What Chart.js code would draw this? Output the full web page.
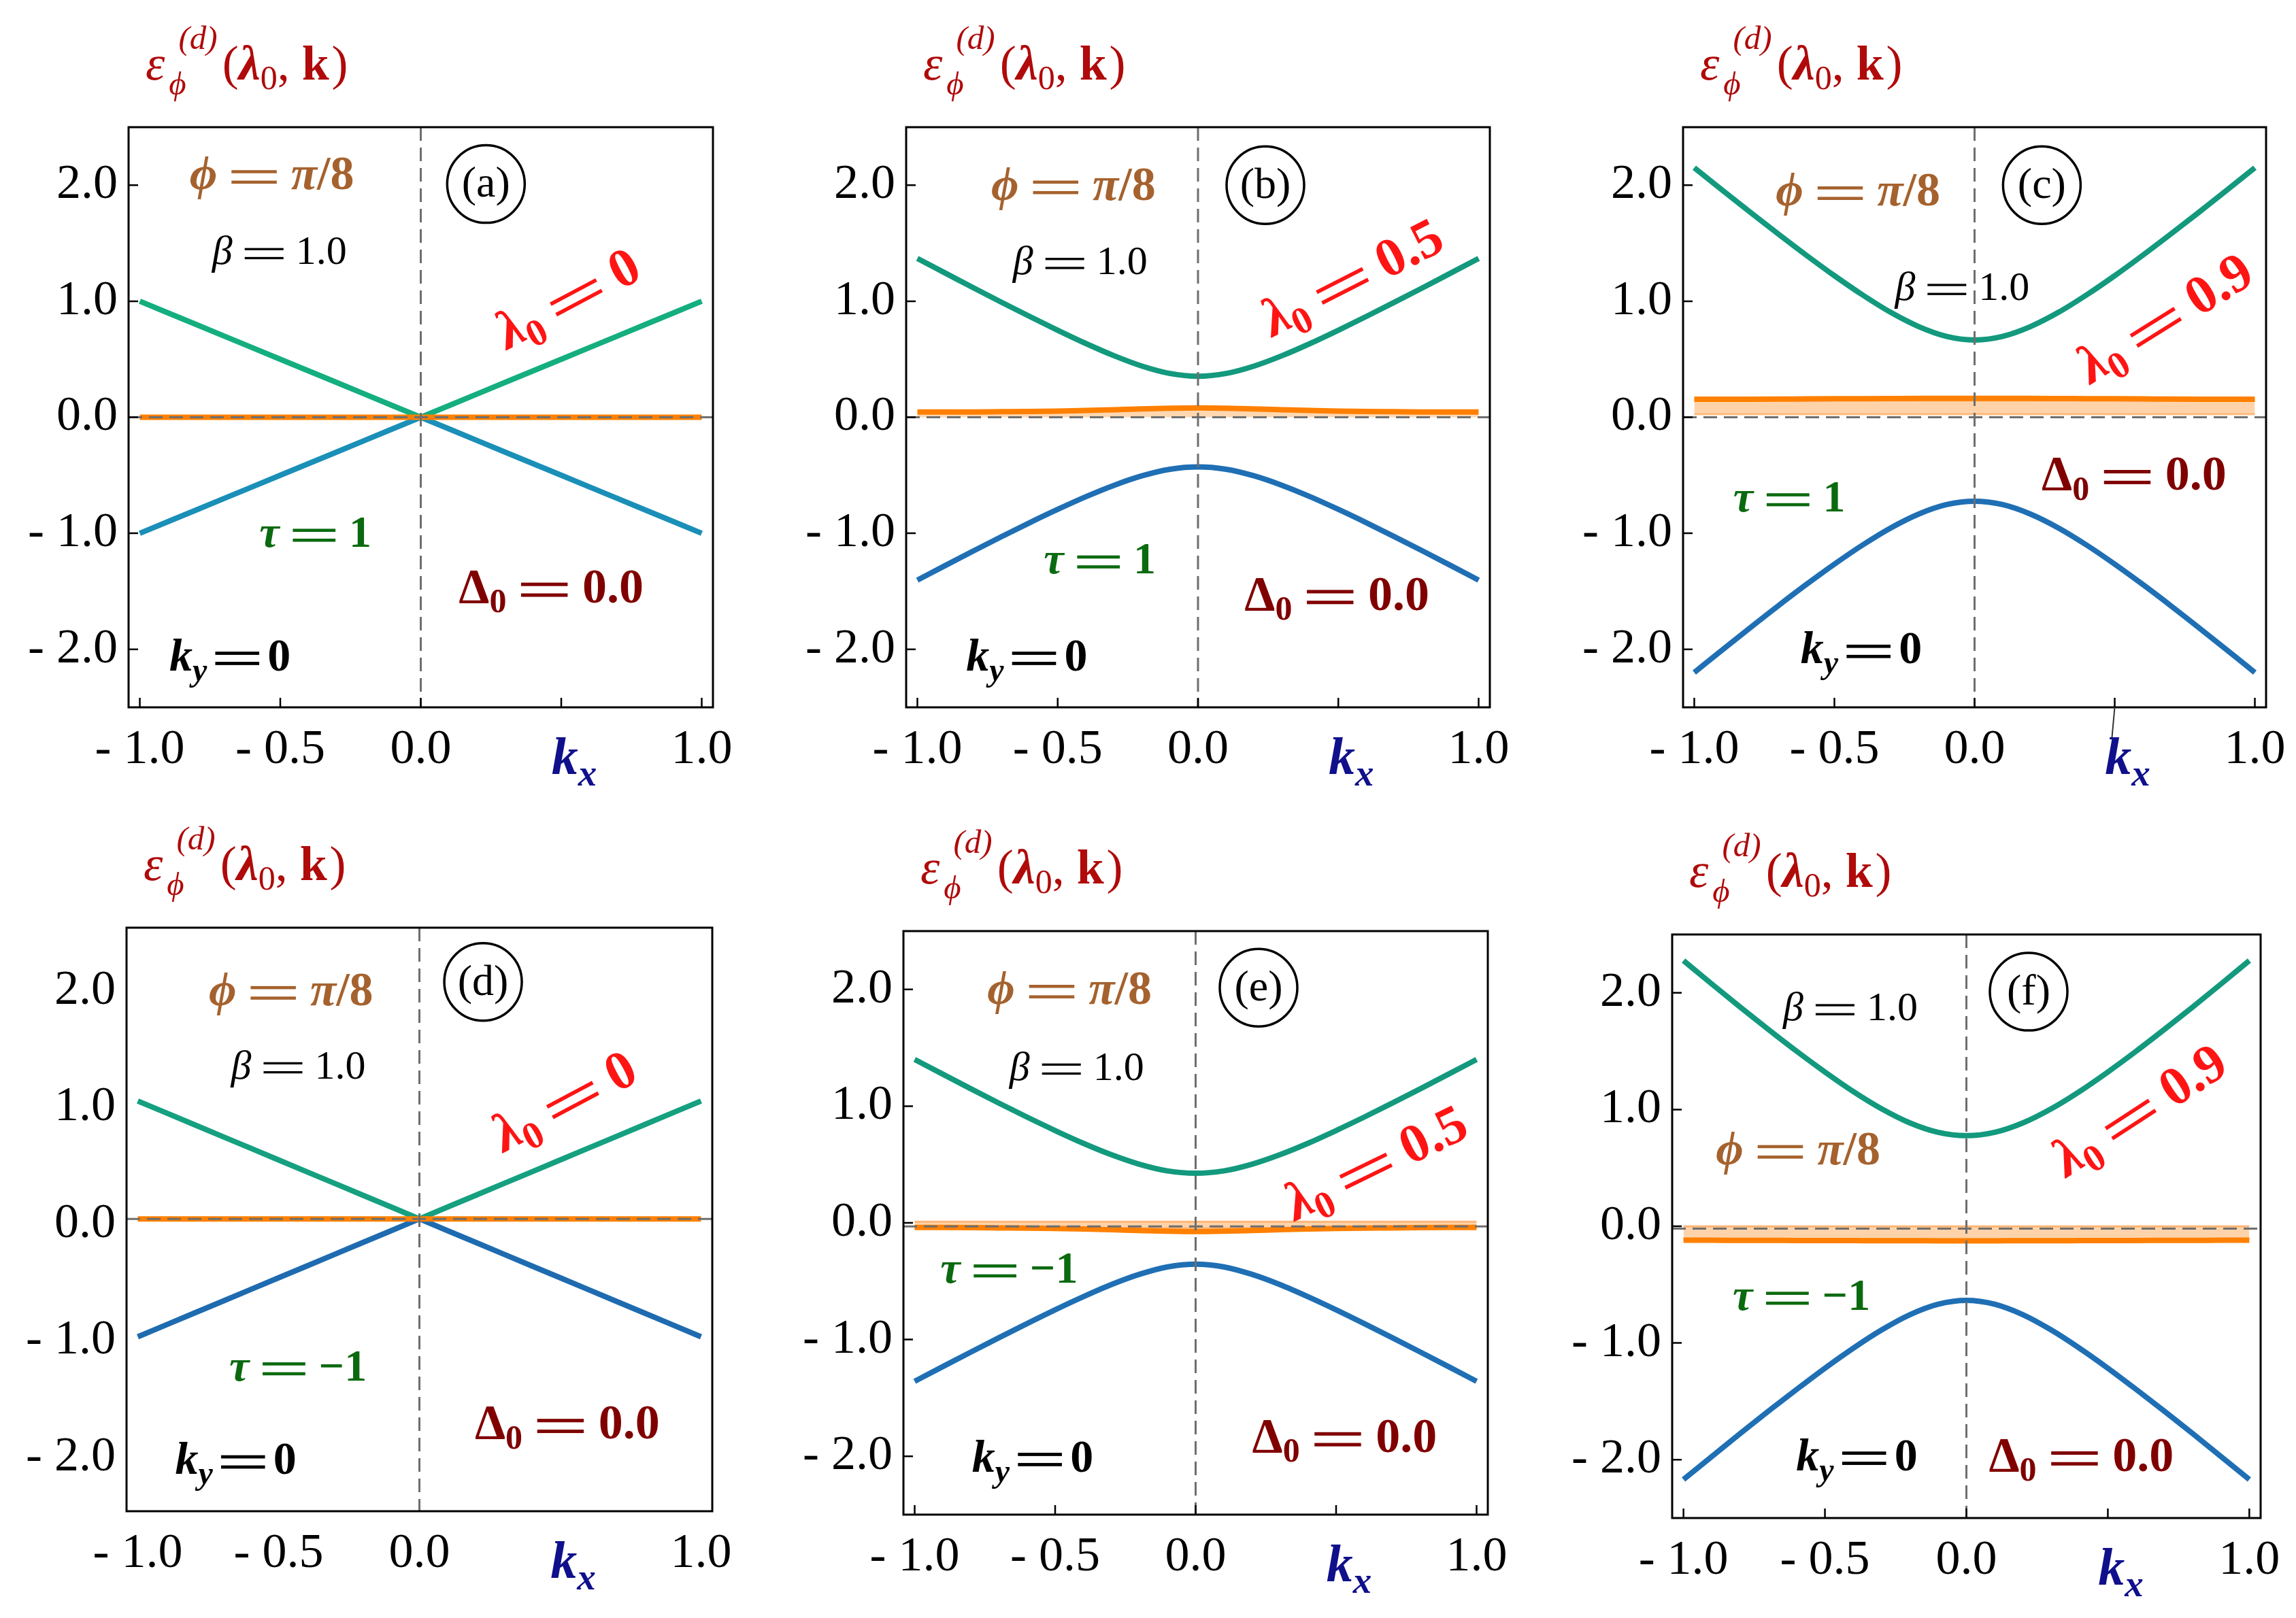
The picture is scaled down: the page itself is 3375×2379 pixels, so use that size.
<!DOCTYPE html>
<html>
<head>
<meta charset="utf-8">
<script src="https://cdn.jsdelivr.net/npm/chart.js@4.4.1/dist/chart.umd.min.js"></script>
<style>
  html, body { margin: 0; padding: 0; background: #fff; }
  body { width: 3375px; height: 2379px; position: relative; overflow: hidden; }
  canvas { position: absolute; }
</style>
</head>
<body>
<script>
// k_x sample points shared by every panel
const KX = [-1.0, -0.9, -0.8, -0.7, -0.6, -0.5, -0.4, -0.3, -0.2, -0.1, 0.0, 0.1, 0.2, 0.3, 0.4, 0.5, 0.6, 0.7, 0.8, 0.9, 1.0];

// tick values and their printed labels
const X_TICKS = [-1.0, -0.5, 0.0, 0.5, 1.0];
const X_TICK_LABELS = ["- 1.0", "- 0.5", "0.0", "", "1.0"];
const Y_TICKS = [-2, -1, 0, 1, 2];
const Y_TICK_LABELS = ["- 2.0", "- 1.0", "0.0", "1.0", "2.0"];

// (a) lambda0 = 0, tau = 1
const A_UP = [1.0, 0.9, 0.8, 0.7, 0.6, 0.5, 0.4, 0.3, 0.2, 0.1, 0.0, 0.1, 0.2, 0.3, 0.4, 0.5, 0.6, 0.7, 0.8, 0.9, 1.0];
const A_LO = [-1.0, -0.9, -0.8, -0.7, -0.6, -0.5, -0.4, -0.3, -0.2, -0.1, 0.0, -0.1, -0.2, -0.3, -0.4, -0.5, -0.6, -0.7, -0.8, -0.9, -1.0];
const A_OR = [0, 0, 0, 0, 0, 0, 0, 0, 0, 0, 0, 0, 0, 0, 0, 0, 0, 0, 0, 0, 0];

// (b) lambda0 = 0.5, tau = 1
const B_UP = [1.369, 1.242, 1.115, 0.991, 0.869, 0.750, 0.636, 0.531, 0.441, 0.377, 0.353, 0.377, 0.441, 0.531, 0.636, 0.750, 0.869, 0.991, 1.115, 1.242, 1.369];
const B_LO = [-1.404, -1.277, -1.152, -1.029, -0.909, -0.794, -0.685, -0.587, -0.505, -0.448, -0.428, -0.448, -0.505, -0.587, -0.685, -0.794, -0.909, -1.029, -1.152, -1.277, -1.404];
const B_OR = [0.045, 0.045, 0.046, 0.048, 0.050, 0.053, 0.058, 0.065, 0.072, 0.078, 0.080, 0.078, 0.072, 0.065, 0.058, 0.053, 0.050, 0.048, 0.046, 0.045, 0.045];

// (c) lambda0 = 0.9, tau = 1
const C_UP = [2.150, 1.957, 1.766, 1.579, 1.396, 1.220, 1.055, 0.905, 0.782, 0.697, 0.666, 0.697, 0.782, 0.905, 1.055, 1.220, 1.396, 1.579, 1.766, 1.957, 2.150];
const C_LO = [-2.200, -2.005, -1.813, -1.624, -1.441, -1.266, -1.102, -0.955, -0.835, -0.753, -0.724, -0.753, -0.835, -0.955, -1.102, -1.266, -1.441, -1.624, -1.813, -2.005, -2.200];
const C_OR = [0.155, 0.155, 0.156, 0.157, 0.158, 0.159, 0.160, 0.161, 0.162, 0.162, 0.162, 0.162, 0.162, 0.161, 0.160, 0.159, 0.158, 0.157, 0.156, 0.155, 0.155];

// (d) lambda0 = 0, tau = -1
const D_UP = [1.055, 0.954, 0.853, 0.752, 0.651, 0.550, 0.449, 0.348, 0.247, 0.146, 0.045, 0.146, 0.247, 0.348, 0.449, 0.550, 0.651, 0.752, 0.853, 0.954, 1.055];
const D_LO = [-0.965, -0.864, -0.763, -0.662, -0.561, -0.460, -0.359, -0.258, -0.157, -0.056, 0.045, -0.056, -0.157, -0.258, -0.359, -0.460, -0.561, -0.662, -0.763, -0.864, -0.965];
const D_OR = [0.045, 0.045, 0.045, 0.045, 0.045, 0.045, 0.045, 0.045, 0.045, 0.045, 0.045, 0.045, 0.045, 0.045, 0.045, 0.045, 0.045, 0.045, 0.045, 0.045, 0.045];

// (e) lambda0 = 0.5, tau = -1
const E_UP = [1.400, 1.274, 1.149, 1.026, 0.906, 0.791, 0.682, 0.584, 0.502, 0.445, 0.425, 0.445, 0.502, 0.584, 0.682, 0.791, 0.906, 1.026, 1.149, 1.274, 1.400];
const E_LO = [-1.358, -1.232, -1.107, -0.984, -0.863, -0.745, -0.633, -0.529, -0.441, -0.377, -0.354, -0.377, -0.441, -0.529, -0.633, -0.745, -0.863, -0.984, -1.107, -1.232, -1.358];
const E_OR = [-0.040, -0.040, -0.041, -0.043, -0.045, -0.048, -0.053, -0.059, -0.066, -0.072, -0.075, -0.072, -0.066, -0.059, -0.053, -0.048, -0.045, -0.043, -0.041, -0.040, -0.040];

// (f) lambda0 = 0.9, tau = -1
const F_UP = [2.276, 2.076, 1.879, 1.687, 1.500, 1.322, 1.155, 1.007, 0.886, 0.805, 0.776, 0.805, 0.886, 1.007, 1.155, 1.322, 1.500, 1.687, 1.879, 2.076, 2.276];
const F_LO = [-2.170, -1.973, -1.777, -1.585, -1.398, -1.216, -1.045, -0.889, -0.758, -0.668, -0.635, -0.668, -0.758, -0.889, -1.045, -1.216, -1.398, -1.585, -1.777, -1.973, -2.170];
const F_OR = [-0.120, -0.120, -0.121, -0.121, -0.122, -0.122, -0.123, -0.124, -0.124, -0.125, -0.125, -0.125, -0.124, -0.124, -0.123, -0.122, -0.122, -0.121, -0.121, -0.120, -0.120];

// light shaded strips next to the flat band
const BAND_X = [-1.0, 1.0];
const C_BAND_TOP = [0.145, 0.145];
const C_BAND_BOT = [0.026, 0.026];
const E_BAND_TOP = [0.010, 0.010];
const E_BAND_BOT = [-0.045, -0.045];
const F_BAND_TOP = [0.000, 0.000];
const F_BAND_BOT = [-0.110, -0.110];

const FONT = '"Liberation Serif", "DejaVu Serif", serif';
const PAD_L = 200, PAD_R = 60, PAD_T = 190, PAD_B = 150;
const X_MIN = -1.04, X_MAX = 1.04;

const GREEN = "#13997d", BLUE = "#1f6fb4", ORANGE = "#ff8000";
const PHI = "\u03d5";

const panels = [
  { tag: "a", box: [189, 187, 1048, 1040], yr: [-2.5, 2.5], up: A_UP, lo: A_LO, orange: A_OR,
    upCol: "#14ae7f", loCol: "#1a8fb8", smooth: false, ticks: true, hzero: 0,
    notes: [
      { k: "phi", x: -0.53, y: 2.10 }, { k: "circ", x: 0.232, y: 2.01 },
      { k: "beta", x: -0.503, y: 1.435 }, { k: "lam", v: "0", x: 0.522, y: 1.03, r: 28 },
      { k: "tau", v: "1", x: -0.375, y: -0.99 }, { k: "delta", x: 0.464, y: -1.457 },
      { k: "ky", x: -0.679, y: -2.05 } ] },
  { tag: "b", box: [1332, 187, 2190, 1040], yr: [-2.5, 2.5], up: B_UP, lo: B_LO, orange: B_OR,
    upCol: GREEN, loCol: BLUE, smooth: true, ticks: true, hzero: 0, orangeFill: true,
    notes: [
      { k: "phi", x: -0.444, y: 2.01 }, { k: "circ", x: 0.24, y: 2.0 },
      { k: "beta", x: -0.42, y: 1.35 }, { k: "lam", v: "0.5", x: 0.548, y: 1.21, r: 27 },
      { k: "tau", v: "1", x: -0.35, y: -1.22 }, { k: "delta", x: 0.495, y: -1.52 },
      { k: "ky", x: -0.61, y: -2.05 } ] },
  { tag: "c", box: [2474, 187, 3331, 1040], yr: [-2.5, 2.5], up: C_UP, lo: C_LO, orange: C_OR,
    upCol: GREEN, loCol: BLUE, smooth: true, ticks: true, hzero: 0, band: [C_BAND_TOP, C_BAND_BOT], stray: true,
    notes: [
      { k: "phi", x: -0.416, y: 1.96 }, { k: "circ", x: 0.24, y: 2.0 },
      { k: "beta", x: -0.044, y: 1.126 }, { k: "lam", v: "0.9", x: 0.677, y: 0.86, r: 32 },
      { k: "tau", v: "1", x: -0.661, y: -0.684 }, { k: "delta", x: 0.569, y: -0.486 },
      { k: "ky", x: -0.404, y: -1.99 } ] },
  { tag: "d", box: [186, 1364, 1047, 2222], yr: [-2.46, 2.54], up: D_UP, lo: D_LO, orange: D_OR,
    upCol: "#15a080", loCol: "#1e6bb0", smooth: false, ticks: false, hzero: 0.045,
    notes: [
      { k: "phi", x: -0.456, y: 2.01 }, { k: "circ", x: 0.226, y: 2.075 },
      { k: "beta", x: -0.43, y: 1.364 }, { k: "lam", v: "0", x: 0.513, y: 1.06, r: 28 },
      { k: "tau", v: "\u22121", x: -0.431, y: -1.213 }, { k: "delta", x: 0.525, y: -1.70 },
      { k: "ky", x: -0.652, y: -2.01 } ] },
  { tag: "e", box: [1328, 1369, 2187, 2227], yr: [-2.5, 2.5], up: E_UP, lo: E_LO, orange: E_OR,
    upCol: GREEN, loCol: BLUE, smooth: true, ticks: true, hzero: -0.03, band: [E_BAND_TOP, E_BAND_BOT],
    notes: [
      { k: "phi", x: -0.449, y: 2.01 }, { k: "circ", x: 0.224, y: 2.015 },
      { k: "beta", x: -0.423, y: 1.342 }, { k: "lam", v: "0.5", x: 0.64, y: 0.52, r: 26 },
      { k: "tau", v: "\u22121", x: -0.664, y: -0.385 }, { k: "delta", x: 0.53, y: -1.825 },
      { k: "ky", x: -0.58, y: -2.0 } ] },
  { tag: "f", box: [2458, 1374, 3323, 2232], yr: [-2.5, 2.5], up: F_UP, lo: F_LO, orange: F_OR,
    upCol: GREEN, loCol: BLUE, smooth: true, ticks: true, hzero: -0.02, band: [F_BAND_TOP, F_BAND_BOT],
    notes: [
      { k: "beta", x: -0.41, y: 1.88 }, { k: "circ", x: 0.22, y: 2.01 },
      { k: "phi", x: -0.595, y: 0.666 }, { k: "lam", v: "0.9", x: 0.61, y: 1.0, r: 33 },
      { k: "tau", v: "\u22121", x: -0.583, y: -0.59 }, { k: "ky", x: -0.387, y: -1.96 },
      { k: "delta", x: 0.406, y: -1.96 } ] },
];

// ---- little math-text renderer ----
function fontOf(size, p) {
  return (p.it ? "italic " : "") + (p.w ? "bold " : "") + Math.round(size * (p.sc || 1)) + "px " + FONT;
}

function measure(ctx, size, parts) {
  let total = 0;
  for (const p of parts) {
    if (p.eq) {
      p._w = size * ((p.gap ?? 0.3) * 2 + 0.95);
    } else if (p.stack) {
      p._w = Math.max(...p.stack.map(q => { ctx.font = fontOf(size, q); return ctx.measureText(q.s).width + (q.dx || 0) * size; }));
    } else {
      ctx.font = fontOf(size, p);
      p._w = ctx.measureText(p.s).width;
    }
    total += p._w + (p.kern || 0) * size;
  }
  return total;
}

function drawParts(ctx, parts, x, y, size, color, opts = {}) {
  const align = opts.align || "center";
  ctx.save();
  ctx.translate(x, y);
  ctx.rotate(((opts.rot || 0) * Math.PI) / 180);
  const total = measure(ctx, size, parts);
  let cx = align === "center" ? -total / 2 : 0;
  const base = align === "center" ? 0.33 * size : 0;
  ctx.fillStyle = color;
  ctx.textAlign = "left";
  ctx.textBaseline = "alphabetic";
  for (const p of parts) {
    if (p.eq) {
      const g = (p.gap ?? 0.3) * size, len = 0.95 * size, th = (p.th || 0.055) * size;
      ctx.fillRect(cx + g, base - 0.37 * size - th / 2, len, th);
      ctx.fillRect(cx + g, base - 0.15 * size - th / 2, len, th);
    } else if (p.stack) {
      for (const q of p.stack) {
        ctx.font = fontOf(size, q);
        ctx.fillText(q.s, cx + (q.dx || 0) * size, base + (q.dy || 0) * size);
      }
    } else {
      ctx.font = fontOf(size, p);
      ctx.fillText(p.s, cx, base + (p.dy || 0) * size);
    }
    cx += p._w + (p.kern || 0) * size;
  }
  ctx.restore();
}

function noteSpec(n) {
  switch (n.k) {
    case "phi":
      return { size: 70, color: "#a5622e", parts: [{ s: PHI, it: 1, w: 1 }, { eq: 1, th: 0.065 }, { s: "π", it: 1, w: 1 }, { s: "/8", w: 1 }] };
    case "beta":
      return { size: 60, color: "#000", parts: [{ s: "β", it: 1 }, { eq: 1 }, { s: "1.0" }] };
    case "lam":
      return { size: 80, color: "#ff1414", rot: -n.r,
        parts: [{ s: "λ", it: 1, w: 1 }, { s: "0", w: 1, sc: 0.7, dy: 0.2 }, { eq: 1, th: 0.07 }, { s: n.v, w: 1 }] };
    case "tau":
      return { size: 66, color: "#0b6a10", parts: [{ s: "τ", it: 1, w: 1 }, { eq: 1, th: 0.07 }, { s: n.v, w: 1 }] };
    case "delta":
      return { size: 72, color: "#800000",
        parts: [{ s: "Δ", w: 1 }, { s: "0", w: 1, sc: 0.7, dy: 0.2 }, { eq: 1, th: 0.07 }, { s: "0.0", w: 1 }] };
    case "ky":
      return { size: 68, color: "#000",
        parts: [{ s: "k", it: 1, w: 1 }, { s: "y", it: 1, w: 1, sc: 0.7, dy: 0.22 }, { eq: 1, gap: 0.18, th: 0.07 }, { s: "0", w: 1 }] };
  }
  return null;
}

const titleParts = () => [
  { s: "ε", it: 1 },
  { stack: [{ s: "(d)", it: 1, sc: 0.68, dy: -0.62, dx: 0.28 }, { s: PHI, it: 1, sc: 0.68, dy: 0.3, dx: 0.08 }], kern: 0.1 },
  { s: "(" }, { s: "λ", it: 1, w: 1 }, { s: "0", sc: 0.7, dy: 0.2 },
  { s: ",", kern: 0.25 }, { s: "k", w: 1, kern: 0.05 }, { s: ")" },
];

function makeDeco(p) {
  return {
    id: "deco_" + p.tag,
    afterDatasetsDraw(chart) {
      const { ctx, chartArea: a, scales } = chart;
      const xs = scales.x, ys = scales.y;
      ctx.save();
      ctx.beginPath();
      ctx.rect(a.left, a.top, a.right - a.left, a.bottom - a.top);
      ctx.clip();
      ctx.setLineDash([20, 10]);
      ctx.strokeStyle = "#6e6e6e";
      ctx.lineWidth = 3;
      const x0 = xs.getPixelForValue(0);
      ctx.beginPath();
      ctx.moveTo(x0, a.top);
      ctx.lineTo(x0, a.bottom);
      const y0 = ys.getPixelForValue(p.hzero);
      ctx.moveTo(a.left, y0);
      ctx.lineTo(a.right, y0);
      ctx.stroke();
      ctx.restore();
    },
    afterDraw(chart) {
      const { ctx, chartArea: a, scales } = chart;
      const xs = scales.x, ys = scales.y;
      ctx.save();
      // inward ticks
      if (p.ticks) {
        ctx.strokeStyle = "#000";
        ctx.lineWidth = 2.5;
        ctx.beginPath();
        for (const v of X_TICKS) {
          const px = xs.getPixelForValue(v);
          ctx.moveTo(px, a.bottom);
          ctx.lineTo(px, a.bottom - 14);
        }
        for (const v of Y_TICKS) {
          const py = ys.getPixelForValue(v);
          ctx.moveTo(a.left, py);
          ctx.lineTo(a.left + 14, py);
        }
        ctx.stroke();
      }
      // frame
      ctx.strokeStyle = "#000";
      ctx.lineWidth = 3;
      ctx.strokeRect(a.left, a.top, a.right - a.left, a.bottom - a.top);

      if (p.stray) {
        ctx.strokeStyle = "#333";
        ctx.lineWidth = 2;
        ctx.beginPath();
        ctx.moveTo(xs.getPixelForValue(0.5), a.bottom);
        ctx.lineTo(xs.getPixelForValue(0.5) - 4, a.bottom + 44);
        ctx.stroke();
      }

      // annotations
      for (const n of p.notes) {
        const px = xs.getPixelForValue(n.x), py = ys.getPixelForValue(n.y);
        if (n.k === "circ") {
          ctx.strokeStyle = "#000";
          ctx.lineWidth = 3.5;
          ctx.beginPath();
          ctx.arc(px, py, 57, 0, Math.PI * 2);
          ctx.stroke();
          ctx.fillStyle = "#000";
          ctx.font = "64px " + FONT;
          ctx.textAlign = "center";
          ctx.textBaseline = "middle";
          ctx.fillText("(" + p.tag + ")", px, py + 2);
          continue;
        }
        const s = noteSpec(n);
        drawParts(ctx, s.parts, px, py, s.size, s.color, { rot: s.rot || 0 });
      }

      // axis name k_x
      drawParts(ctx, [{ s: "k", it: 1, w: 1 }, { s: "x", it: 1, w: 1, sc: 0.7, dy: 0.22 }],
        xs.getPixelForValue(0.546), a.bottom + 72, 78, "#10108c");

      // panel title
      drawParts(ctx, titleParts(), a.left + 25, a.top - 70, 72, "#b00a0a", { align: "left" });
      ctx.restore();
    },
  };
}

function pts(xv, yv) {
  return xv.map((x, i) => ({ x: x, y: yv[i] }));
}

for (const p of panels) {
  const [L, T, R, B] = p.box;
  const W = R - L + PAD_L + PAD_R;
  const H = B - T + PAD_T + PAD_B;
  const cv = document.createElement("canvas");
  cv.width = W;
  cv.height = H;
  cv.style.left = (L - PAD_L) + "px";
  cv.style.top = (T - PAD_T) + "px";
  cv.style.width = W + "px";
  cv.style.height = H + "px";
  document.body.appendChild(cv);

  const lineBase = { pointRadius: 0, borderWidth: 8, fill: false };
  const datasets = [];
  if (p.band) {
    datasets.push({ ...lineBase, data: pts(BAND_X, p.band[0]), borderWidth: 3,
      borderColor: "rgba(255,150,60,0.6)", backgroundColor: "rgba(255,175,100,0.55)", fill: "+1", order: 10 });
    datasets.push({ ...lineBase, data: pts(BAND_X, p.band[1]), borderWidth: 3,
      borderColor: "rgba(255,150,60,0.6)", order: 10 });
  }
  const interp = p.smooth ? { cubicInterpolationMode: "monotone" } : { tension: 0 };
  datasets.push({ ...lineBase, ...interp, data: pts(KX, p.up), borderColor: p.upCol, order: 5 });
  datasets.push({ ...lineBase, ...interp, data: pts(KX, p.lo), borderColor: p.loCol, order: 5 });
  datasets.push({ ...lineBase, ...interp, data: pts(KX, p.orange), borderColor: ORANGE,
    fill: p.orangeFill ? { value: 0 } : false, backgroundColor: "rgba(255,175,100,0.5)", order: 1 });

  const tickFont = { family: FONT, size: 72 };
  new Chart(cv, {
    type: "line",
    data: { datasets: datasets },
    options: {
      responsive: false,
      animation: false,
      devicePixelRatio: 1,
      events: [],
      layout: { padding: { left: 0, top: PAD_T, right: PAD_R, bottom: 0 } },
      plugins: { legend: { display: false }, tooltip: { enabled: false } },
      scales: {
        x: {
          type: "linear", min: X_MIN, max: X_MAX,
          afterBuildTicks: (s) => { s.ticks = X_TICKS.map(v => ({ value: v })); },
          afterFit: (s) => { s.height = PAD_B; },
          grid: { display: false, drawTicks: false },
          border: { display: false },
          ticks: { autoSkip: false, maxRotation: 0, padding: 20, color: "#000", font: tickFont,
            callback: (v) => X_TICK_LABELS[X_TICKS.indexOf(v)] ?? "" },
        },
        y: {
          type: "linear", min: p.yr[0], max: p.yr[1],
          afterBuildTicks: (s) => { s.ticks = Y_TICKS.map(v => ({ value: v })); },
          afterFit: (s) => { s.width = PAD_L; },
          grid: { display: false, drawTicks: false },
          border: { display: false },
          ticks: { padding: 16, color: "#000", font: tickFont,
            callback: (v) => Y_TICK_LABELS[Y_TICKS.indexOf(v)] ?? "" },
        },
      },
    },
    plugins: [makeDeco(p)],
  });
}
</script>
</body>
</html>
